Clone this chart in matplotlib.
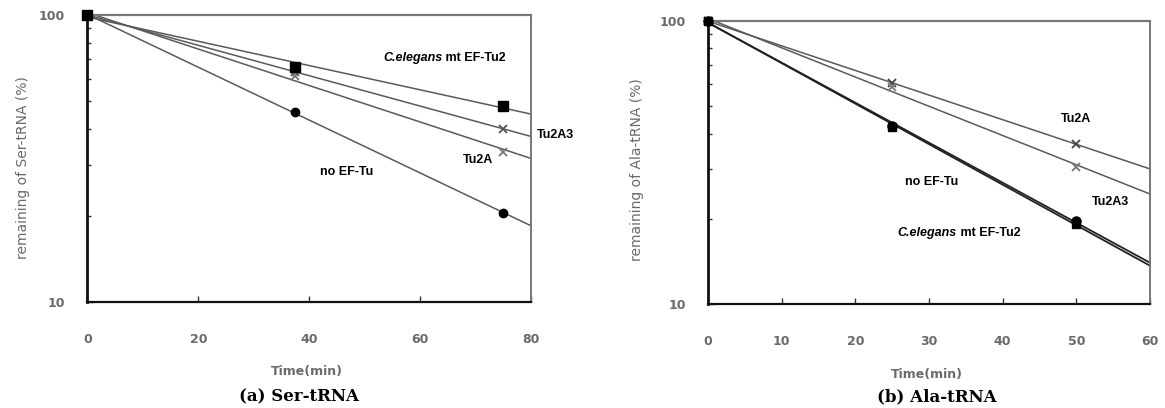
import numpy as np
import matplotlib
matplotlib.use("Agg")
import matplotlib.pyplot as plt
from matplotlib.ticker import FixedLocator, NullFormatter, FixedFormatter

plt.rcParams.update({
    "font.family": ["DejaVu Sans"],
    "font.size": 9,
})

# ---------------------------
# Data
# ---------------------------
ser_time = [0, 37.5, 75]
ser_celegans = [100, 66.1, 48.2]
ser_tu2a3 = [100, 63.4, 40.1]
ser_tu2a = [100, 61.2, 33.4]
ser_no_eftu = [100, 45.8, 20.4]

ala_time = [0, 25, 50]
ala_tu2a = [100, 60.3, 36.8]
ala_tu2a3 = [100, 58.6, 30.5]
ala_no_eftu = [100, 42.6, 19.7]
ala_celegans = [100, 42.2, 19.3]

ser_xticks = [0, 20, 40, 60, 80]
ala_xticks = [0, 10, 20, 30, 40, 50, 60]

GRAY_TXT = "#6a6a6a"
LINE_GRAY = "#5a5a5a"
LABEL_FONT = ["Liberation Sans Narrow", "Liberation Sans", "DejaVu Sans"]


def fit_line(ax, t, y, xmax, color, lw):
    coef = np.polyfit(t, np.log(y), 1)
    xs = np.linspace(0, xmax, 50)
    ax.plot(xs, np.exp(np.polyval(coef, xs)), color=color, lw=lw, zorder=2)


def style_axes(ax, xmax, xticks):
    ax.set_yscale("log")
    ax.set_ylim(10, 100)
    ax.set_xlim(0, xmax)
    ax.set_xticks(xticks)
    ax.yaxis.set_major_locator(FixedLocator([10, 100]))
    ax.yaxis.set_major_formatter(FixedFormatter(["10", "100"]))
    ax.yaxis.set_minor_locator(FixedLocator([20, 30, 40, 50, 60, 70, 80, 90]))
    ax.yaxis.set_minor_formatter(NullFormatter())
    ax.tick_params(axis="x", direction="in", length=4, width=1, pad=22,
                   labelsize=9, labelcolor=GRAY_TXT, color="#333333")
    ax.tick_params(axis="y", which="major", direction="in", length=5, width=1,
                   pad=16, labelsize=9, labelcolor=GRAY_TXT, color="#333333")
    ax.tick_params(axis="y", which="minor", direction="in", length=3, width=1,
                   color="#333333")
    for t in ax.get_xticklabels() + ax.get_yticklabels():
        t.set_fontweight("bold")
    ax.spines["left"].set_color("#111111")
    ax.spines["left"].set_linewidth(2.0)
    ax.spines["bottom"].set_color("#111111")
    ax.spines["bottom"].set_linewidth(1.6)
    ax.spines["top"].set_color("#777777")
    ax.spines["top"].set_linewidth(1.6)
    ax.spines["right"].set_color("#777777")
    ax.spines["right"].set_linewidth(1.4)


def label(ax, x, y, s):
    ax.text(x, y, s, ha="left", va="center", fontsize=9, fontweight="bold",
            family=LABEL_FONT, color="black")


def label_celegans(ax, x, y):
    t1 = ax.text(x, y, "C.elegans", ha="left", va="center", fontsize=9,
                 fontweight="bold", fontstyle="italic", family=LABEL_FONT)
    ax.annotate(" mt EF-Tu2", xy=(1, 0.5), xycoords=t1, ha="left", va="center",
                fontsize=9, fontweight="bold", family=LABEL_FONT)


fig = plt.figure(figsize=(11.65, 4.08), dpi=100)
ax1 = fig.add_axes([0.0751, 0.2598, 0.3807, 0.7034])
ax2 = fig.add_axes([0.6077, 0.2537, 0.3794, 0.6949])

# ---------------------------
# (a) Ser-tRNA
# ---------------------------
fit_line(ax1, ser_time, ser_celegans, 80, LINE_GRAY, 1.1)
fit_line(ax1, ser_time, ser_tu2a3, 80, LINE_GRAY, 1.1)
fit_line(ax1, ser_time, ser_tu2a, 80, LINE_GRAY, 1.1)
fit_line(ax1, ser_time, ser_no_eftu, 80, LINE_GRAY, 1.1)
ax1.plot(ser_time, ser_tu2a, "x", color="#777777", ms=6, mew=1.3, zorder=3, clip_on=False)
ax1.plot(ser_time, ser_tu2a3, "x", color="#555555", ms=6, mew=1.3, zorder=3, clip_on=False)
ax1.plot(ser_time, ser_no_eftu, "o", color="black", ms=6, zorder=4, clip_on=False)
ax1.plot(ser_time, ser_celegans, "s", color="black", ms=6.5, zorder=5, clip_on=False)
style_axes(ax1, 80, ser_xticks)

label_celegans(ax1, 53.3, 70.8)
label(ax1, 81.1, 38.2, "Tu2A3")
label(ax1, 67.7, 31.2, "Tu2A")
label(ax1, 41.9, 28.4, "no EF-Tu")

ax1.set_ylabel("remaining of Ser-tRNA (%)", color=GRAY_TXT, fontsize=10)
ax1.yaxis.set_label_coords(-0.13, 0.47)
ax1.set_xlabel("Time(min)", color=GRAY_TXT, fontsize=9, fontweight="bold")
ax1.xaxis.set_label_coords(0.495, -0.22)

# ---------------------------
# (b) Ala-tRNA
# ---------------------------
fit_line(ax2, ala_time, ala_tu2a, 60, LINE_GRAY, 1.1)
fit_line(ax2, ala_time, ala_tu2a3, 60, LINE_GRAY, 1.1)
fit_line(ax2, ala_time, ala_no_eftu, 60, "#222222", 1.3)
fit_line(ax2, ala_time, ala_celegans, 60, "#222222", 1.3)
ax2.plot(ala_time, ala_tu2a, "x", color="#444444", ms=6, mew=1.3, zorder=3, clip_on=False)
ax2.plot(ala_time, ala_tu2a3, "x", color="#777777", ms=6, mew=1.3, zorder=3, clip_on=False)
ax2.plot(ala_time, ala_no_eftu, "o", color="black", ms=6.5, zorder=4, clip_on=False)
ax2.plot(ala_time, ala_celegans, "s", color="black", ms=6, zorder=5, clip_on=False)
style_axes(ax2, 60, ala_xticks)

label(ax2, 47.9, 45.1, "Tu2A")
label(ax2, 26.7, 27.1, "no EF-Tu")
label(ax2, 52.1, 23.0, "Tu2A3")
label_celegans(ax2, 25.7, 17.9)

ax2.set_ylabel("remaining of Ala-tRNA (%)", color=GRAY_TXT, fontsize=10)
ax2.yaxis.set_label_coords(-0.145, 0.474)
ax2.set_xlabel("Time(min)", color=GRAY_TXT, fontsize=9, fontweight="bold")
ax2.xaxis.set_label_coords(0.496, -0.224)

# captions
fig.text(299 / 1165, 1 - 397 / 408, "(a) Ser-tRNA", ha="center", va="center",
         fontsize=12, fontweight="bold", family=["DejaVu Serif"])
fig.text(937 / 1165, 1 - 397 / 408, "(b) Ala-tRNA", ha="center", va="center",
         fontsize=12, fontweight="bold", family=["DejaVu Serif"])

fig.savefig("out.png", dpi=100)
